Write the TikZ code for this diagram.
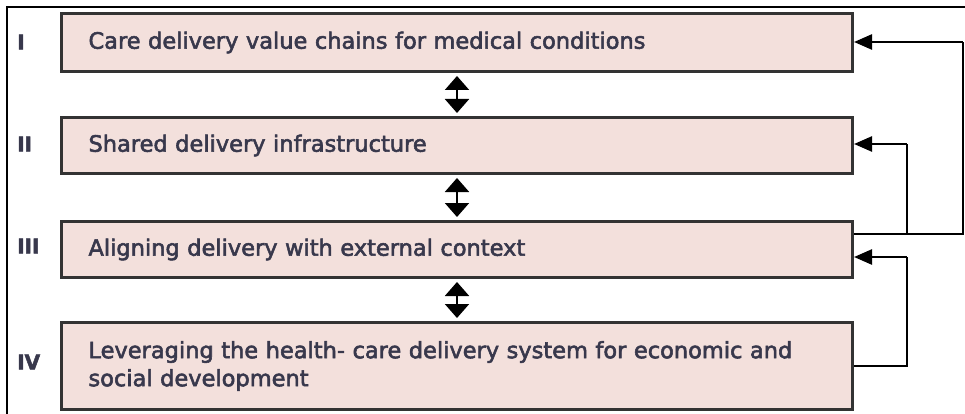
\documentclass[tikz,border=0pt]{standalone}
\usepackage{fontspec}
\setmainfont{DejaVu Sans}[FakeBold=2.4]
\usetikzlibrary{arrows.meta,calc}
\definecolor{boxfill}{HTML}{F3E0DC}
\definecolor{boxline}{HTML}{333333}
\definecolor{inktext}{HTML}{38384C}
\begin{document}
\begin{tikzpicture}[x=1pt,y=-1pt,
  level/.style={draw=boxline,line width=3pt,fill=boxfill,anchor=north west,
    minimum width=791pt,inner xsep=27pt,inner ysep=0pt,text width=737pt,align=left,
    font=\fontsize{22.5}{28}\selectfont,text=inktext},
  numeral/.style={anchor=west,font=\fontsize{20}{22}\selectfont\bfseries,text=inktext,inner sep=0pt},
  link/.style={line width=2.5pt,draw=black},
  feedback/.style={link,-{Triangle[length=18pt,width=15pt]}},
  mutual/.style={line width=2pt,{Triangle[length=14pt,width=24pt]}-{Triangle[length=14pt,width=24pt]}}]
\useasboundingbox (0,0) rectangle (965,414);
% outer frame (left and top rules)
\draw[line width=2pt] (7,414) -- (7,7) -- (965,7);

% the four levels
\node[level,minimum height=58pt] (I) at (60,12) {Care delivery value chains for medical conditions};
\node[level,minimum height=56pt] (II) at (60,116) {Shared delivery infrastructure};
\node[level,minimum height=56pt] (III) at (60,220) {Aligning delivery with external context};
\node[level,minimum height=87pt] (IV) at (60,321) {Leveraging the health- care delivery system for economic and\\social development};

% level numerals
\node[numeral] (nI) at (17,42) {I};
\node[numeral] (nII) at (17,144) {II};
\node[numeral] (nIII) at (17,246) {III};
\node[numeral] (nIV) at (17,362) {IV};

% two-way links between neighbouring levels
\draw[mutual] ($(I.south)+(0,3)$) -- ($(II.north)+(0,-3)$);
\draw[mutual] ($(II.south)+(0,3)$) -- ($(III.north)+(0,-3)$);
\draw[mutual] ($(III.south)+(0,3)$) -- ($(IV.north)+(0,-3)$);

% feedback routing on the right
\coordinate (outerlow) at (963,234);
\coordinate (outerhigh) at (963,42);
\coordinate (split) at (907,234);
\coordinate (innerhigh) at (907,144);
\coordinate (ivout) at (907,366);
\coordinate (iiiin) at (907,257);

\draw[link] (III.east |- outerlow) -- (outerlow) -- (outerhigh);
\draw[feedback] (outerhigh) -- (I.east |- outerhigh);
\draw[link] (split) -- (innerhigh);
\draw[feedback] (innerhigh) -- (II.east |- innerhigh);
\draw[link] (IV.east |- ivout) -- (ivout) -- (iiiin);
\draw[feedback] (iiiin) -- (III.east |- iiiin);
\end{tikzpicture}
\end{document}
